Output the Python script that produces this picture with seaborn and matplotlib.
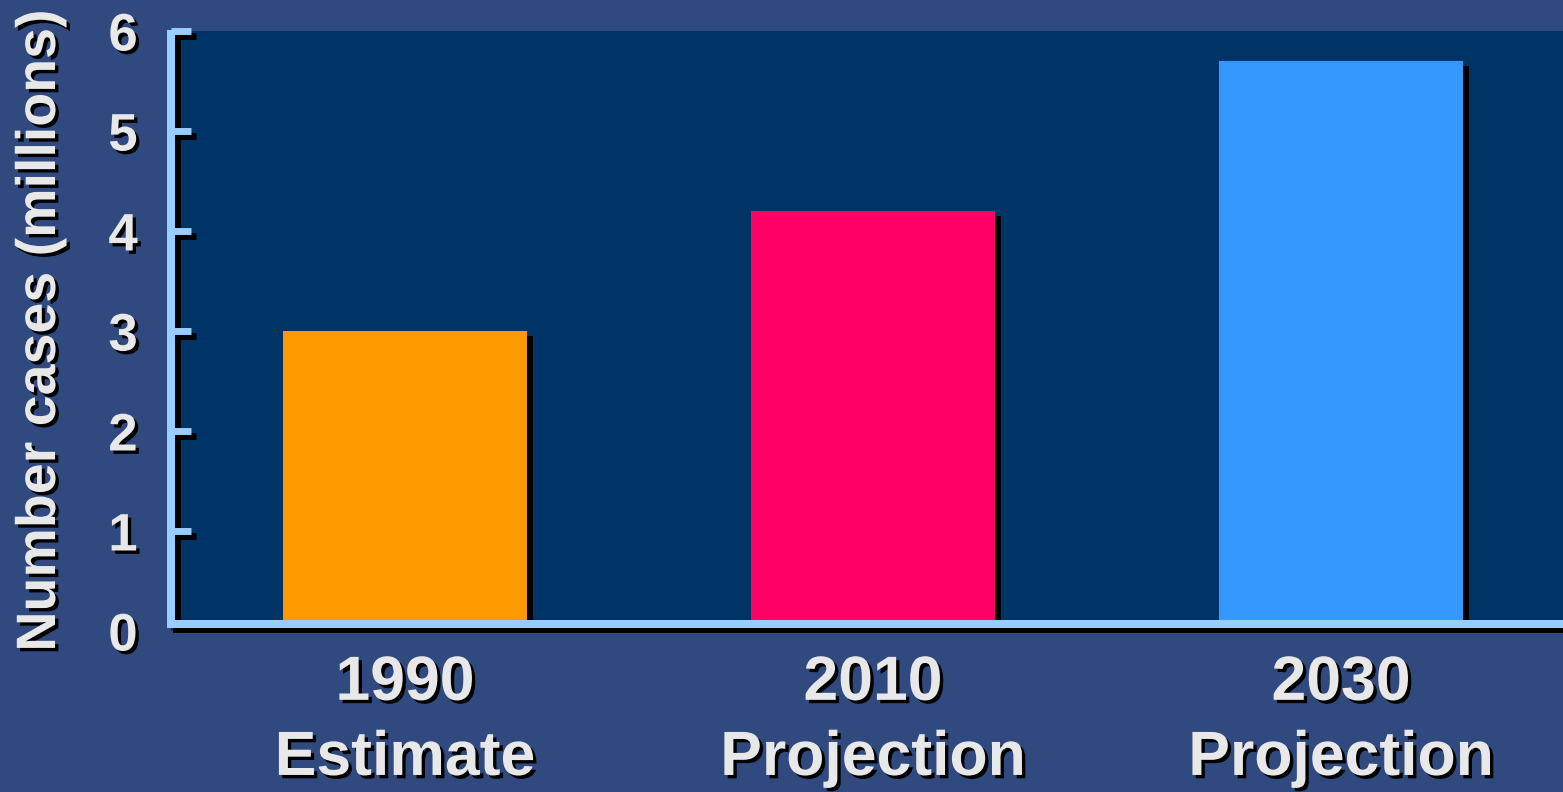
import matplotlib
matplotlib.use('Agg')
import matplotlib.pyplot as plt
import matplotlib.patheffects as pe
import pandas as pd
import seaborn as sns

# chart data
periods = ['1990\nEstimate', '2010\nProjection', '2030\nProjection']
cases_millions = [3.0, 4.2, 5.7]
bar_colors = ['#FF9900', '#FF0066', '#3399FF']
y_ticks = [0, 1, 2, 3, 4, 5, 6]

df = pd.DataFrame({'period': periods, 'cases': cases_millions})

sns.set_style('white')
plt.rcParams['font.family'] = ['Liberation Sans', 'DejaVu Sans']
plt.rcParams['font.weight'] = 'bold'

text_color = '#E8E8E8'
axis_color = '#99CCFF'
text_shadow = [pe.withSimplePatchShadow(offset=(2.4, -2.4), shadow_rgbFace='black', alpha=1)]
line_shadow = [pe.SimpleLineShadow(offset=(4.3, -3.6), shadow_color='black', alpha=1), pe.Normal()]

fig = plt.figure(figsize=(15.63, 7.92), dpi=100)
fig.patch.set_facecolor('#30497F')
ax = fig.add_axes([171 / 1563, 1 - 631 / 792, 1 - 171 / 1563, 600 / 792])
ax.set_facecolor('#003366')

sns.barplot(data=df, x='period', y='cases', hue='period', palette=bar_colors,
            width=0.52, saturation=1, linewidth=0, legend=False, ax=ax)

# drop shadow on the bars
for bar in ax.patches:
    bar.set_path_effects([pe.SimplePatchShadow(offset=(4.3, -3.6), shadow_rgbFace='black', alpha=1),
                          pe.Normal()])

ax.set_xlim(-0.5, 2.474)
ax.set_ylim(0, 6)
ax.set_yticks(y_ticks)

# axes lines
sns.despine(ax=ax, top=True, right=True)
for side in ['left', 'bottom']:
    ax.spines[side].set_color(axis_color)
    ax.spines[side].set_linewidth(5.76)
    ax.spines[side].set_path_effects(line_shadow)
ax.spines['bottom'].set_position(('outward', -5.04))
ax.spines['left'].set_bounds(0.07, 5.97)

ax.tick_params(axis='y', left=True, direction='in', length=14.5, width=5, color=axis_color,
               pad=24, labelsize=38, labelcolor=text_color)
ax.tick_params(axis='x', bottom=False, length=0, pad=21.5, labelsize=45, labelcolor=text_color)
ax.yaxis.set_zorder(3)

for i, t in enumerate(ax.yaxis.get_major_ticks()):
    t.tick1line.set_path_effects([pe.SimpleLineShadow(offset=(3.6, -3.6), shadow_color='black', alpha=1),
                                  pe.Normal()])
    if i == 0:
        t.tick1line.set_visible(False)

for lab in ax.get_yticklabels():
    lab.set_fontweight('bold')
    lab.set_path_effects(text_shadow)
for lab in ax.get_xticklabels():
    lab.set_fontweight('bold')
    lab.set_linespacing(1.35)
    lab.set_path_effects(text_shadow)

ax.set_xlabel('')
ax.set_ylabel('Number cases (millions)', fontsize=40, fontweight='bold', color=text_color,
              path_effects=text_shadow)
ax.yaxis.set_label_coords(-0.0747, 0.5)

fig.savefig('out.png', dpi=100, facecolor=fig.get_facecolor())
